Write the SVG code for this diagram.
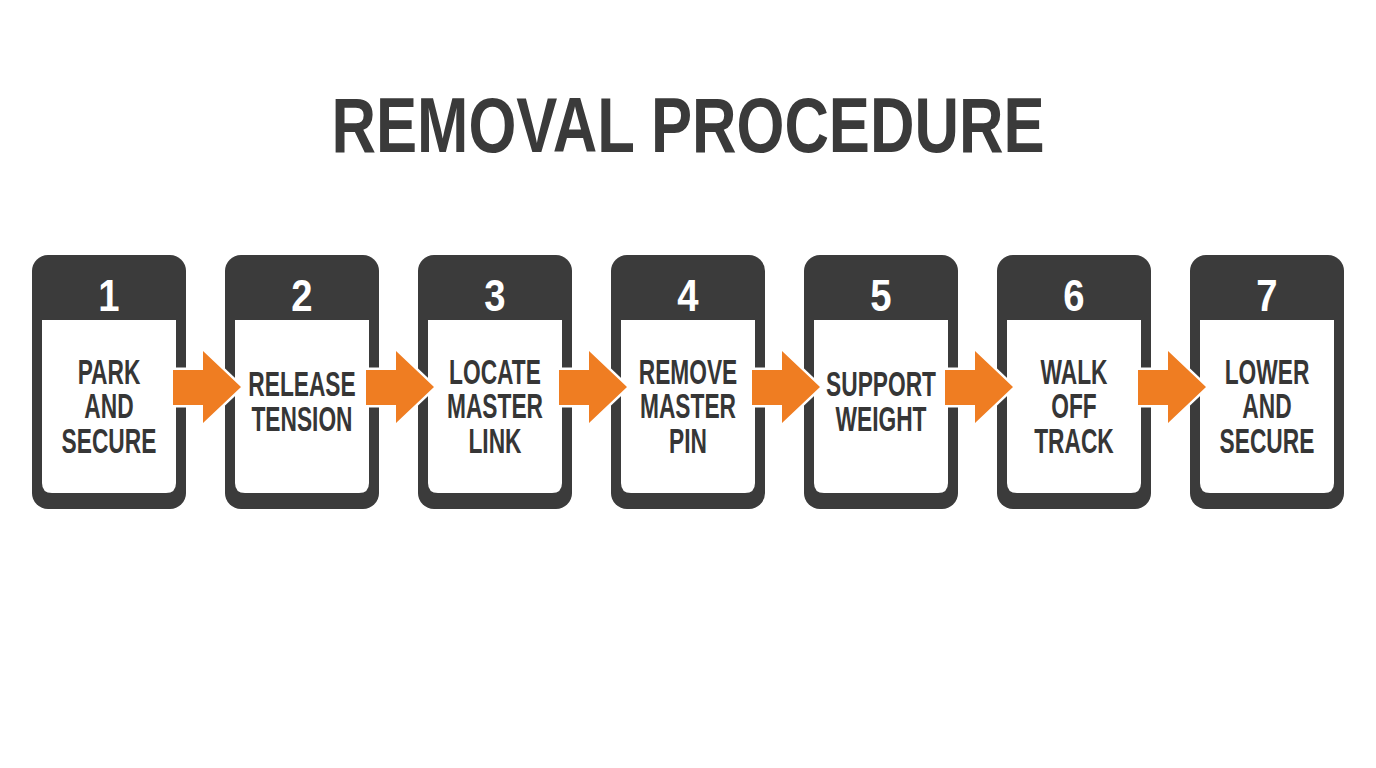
<svg xmlns="http://www.w3.org/2000/svg" width="1376" height="768" viewBox="0 0 1376 768">
<defs>
<style>
.card{fill:#3b3b3b}
.inner{fill:#ffffff}
.num{font-family:"Liberation Sans",Arial,sans-serif;font-weight:bold;font-size:45px;fill:#ffffff;text-anchor:middle}
.lbl{font-family:"Liberation Sans",Arial,sans-serif;font-weight:bold;font-size:35px;fill:#363636;text-anchor:middle}
.title{font-family:"Liberation Sans",Arial,sans-serif;font-weight:bold;font-size:77px;fill:#3a3a3a;text-anchor:middle}
.arrow{fill:#ef7d22;stroke:#ffffff;stroke-width:5;stroke-linejoin:miter;paint-order:stroke}
</style>
</defs>
<rect width="1376" height="768" fill="#ffffff"/>
<text class="title" transform="translate(688 0) scale(0.8 1)" x="0" y="152">REMOVAL PROCEDURE</text>

<g id="step1">
<rect class="card" x="32" y="255" width="154" height="254" rx="16"/>
<path class="inner" d="M42 320 H176 V483 Q176 493 166 493 H52 Q42 493 42 483 Z"/>
<text class="num" transform="translate(109 0) scale(0.85 1)" x="0" y="311">1</text>
<text class="lbl" transform="translate(109 0) scale(0.65 1)"><tspan x="0" y="384">PARK</tspan><tspan x="0" y="418.5">AND</tspan><tspan x="0" y="453">SECURE</tspan></text>
</g>
<g id="step2">
<rect class="card" x="225" y="255" width="154" height="254" rx="16"/>
<path class="inner" d="M235 320 H369 V483 Q369 493 359 493 H245 Q235 493 235 483 Z"/>
<text class="num" transform="translate(302 0) scale(0.85 1)" x="0" y="311">2</text>
<text class="lbl" transform="translate(302 0) scale(0.65 1)"><tspan x="0" y="396">RELEASE</tspan><tspan x="0" y="431">TENSION</tspan></text>
</g>
<g id="step3">
<rect class="card" x="418" y="255" width="154" height="254" rx="16"/>
<path class="inner" d="M428 320 H562 V483 Q562 493 552 493 H438 Q428 493 428 483 Z"/>
<text class="num" transform="translate(495 0) scale(0.85 1)" x="0" y="311">3</text>
<text class="lbl" transform="translate(495 0) scale(0.65 1)"><tspan x="0" y="384">LOCATE</tspan><tspan x="0" y="418.5">MASTER</tspan><tspan x="0" y="453">LINK</tspan></text>
</g>
<g id="step4">
<rect class="card" x="611" y="255" width="154" height="254" rx="16"/>
<path class="inner" d="M621 320 H755 V483 Q755 493 745 493 H631 Q621 493 621 483 Z"/>
<text class="num" transform="translate(688 0) scale(0.85 1)" x="0" y="311">4</text>
<text class="lbl" transform="translate(688 0) scale(0.65 1)"><tspan x="0" y="384">REMOVE</tspan><tspan x="0" y="418.5">MASTER</tspan><tspan x="0" y="453">PIN</tspan></text>
</g>
<g id="step5">
<rect class="card" x="804" y="255" width="154" height="254" rx="16"/>
<path class="inner" d="M814 320 H948 V483 Q948 493 938 493 H824 Q814 493 814 483 Z"/>
<text class="num" transform="translate(881 0) scale(0.85 1)" x="0" y="311">5</text>
<text class="lbl" transform="translate(881 0) scale(0.65 1)"><tspan x="0" y="396">SUPPORT</tspan><tspan x="0" y="431">WEIGHT</tspan></text>
</g>
<g id="step6">
<rect class="card" x="997" y="255" width="154" height="254" rx="16"/>
<path class="inner" d="M1007 320 H1141 V483 Q1141 493 1131 493 H1017 Q1007 493 1007 483 Z"/>
<text class="num" transform="translate(1074 0) scale(0.85 1)" x="0" y="311">6</text>
<text class="lbl" transform="translate(1074 0) scale(0.65 1)"><tspan x="0" y="384">WALK</tspan><tspan x="0" y="418.5">OFF</tspan><tspan x="0" y="453">TRACK</tspan></text>
</g>
<g id="step7">
<rect class="card" x="1190" y="255" width="154" height="254" rx="16"/>
<path class="inner" d="M1200 320 H1334 V483 Q1334 493 1324 493 H1210 Q1200 493 1200 483 Z"/>
<text class="num" transform="translate(1267 0) scale(0.85 1)" x="0" y="311">7</text>
<text class="lbl" transform="translate(1267 0) scale(0.65 1)"><tspan x="0" y="384">LOWER</tspan><tspan x="0" y="418.5">AND</tspan><tspan x="0" y="453">SECURE</tspan></text>
</g>

<g id="connectors">
<polygon class="arrow" points="173,370 203,370 203,351 241,387 203,423 203,405 173,405"/>
<polygon class="arrow" points="366,370 396,370 396,351 434,387 396,423 396,405 366,405"/>
<polygon class="arrow" points="559,370 589,370 589,351 627,387 589,423 589,405 559,405"/>
<polygon class="arrow" points="752,370 782,370 782,351 820,387 782,423 782,405 752,405"/>
<polygon class="arrow" points="945,370 975,370 975,351 1013,387 975,423 975,405 945,405"/>
<polygon class="arrow" points="1138,370 1168,370 1168,351 1206,387 1168,423 1168,405 1138,405"/>
</g>
</svg>
